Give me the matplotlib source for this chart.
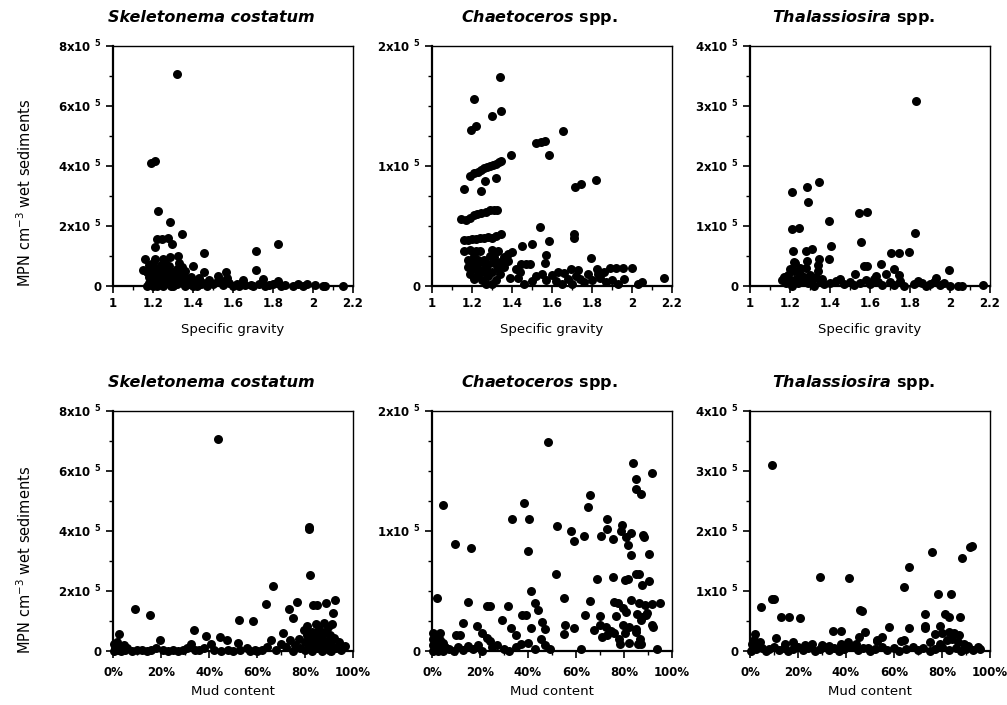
import numpy as np
import matplotlib
matplotlib.use("Agg")
import matplotlib.pyplot as plt
from matplotlib.ticker import MultipleLocator, FuncFormatter

plt.rcParams['font.family'] = ['DejaVu Sans']
plt.rcParams['mathtext.fontset'] = 'dejavusans'

# values: (x, MPN in units of 1e5)
sk_sg = [(1.32, 7.08), (1.19, 4.10), (1.21, 4.15), (1.227, 2.51), (1.285, 2.12), (1.343, 1.73),
         (1.218, 1.56), (1.245, 1.58), (1.277, 1.61), (1.293, 1.39), (1.21, 1.30), (1.457, 1.11),
         (1.715, 1.17), (1.827, 1.39), (1.285, 0.95), (1.327, 1.0), (1.16, 0.89), (1.21, 0.89),
         (1.40, 0.67), (1.343, 0.62), (1.15, 0.53), (1.715, 0.53), (1.457, 0.45), (1.527, 0.33),
         (1.565, 0.45), (1.652, 0.19), (1.752, 0.22), (1.827, 0.17), (1.927, 0.07), (1.968, 0.06),
         (2.01, 0.03), (2.05, 0.0), (2.06, 0.01), (2.15, 0.0),
         (1.17, 0.45), (1.18, 0.3), (1.18, 0.1), (1.19, 0.6), (1.19, 0.2), (1.2, 0.0), (1.2, 0.4),
         (1.21, 0.15), (1.22, 0.55), (1.22, 0.3), (1.23, 0.05), (1.23, 0.45), (1.24, 0.2),
         (1.25, 0.6), (1.25, 0.0), (1.26, 0.35), (1.27, 0.1), (1.27, 0.5), (1.28, 0.25),
         (1.29, 0.0), (1.3, 0.45), (1.3, 0.15), (1.31, 0.3), (1.32, 0.05), (1.33, 0.2),
         (1.34, 0.4), (1.35, 0.1), (1.36, 0.25), (1.38, 0.05), (1.4, 0.15), (1.42, 0.0),
         (1.44, 0.08), (1.47, 0.0), (1.5, 0.05), (1.52, 0.12), (1.55, 0.02), (1.58, 0.1),
         (1.6, 0.0), (1.62, 0.06), (1.66, 0.02), (1.7, 0.0), (1.73, 0.08), (1.78, 0.02),
         (1.8, 0.05), (1.84, 0.0), (1.86, 0.03), (1.9, 0.0), (1.95, 0.0), (1.2, 0.75),
         (1.26, 0.8), (1.24, 0.7), (1.32, 0.55), (1.17, 0.0), (1.28, 0.65), (1.36, 0.5),
         (1.3, 0.0), (1.22, 0.0), (1.36, 0.0), (1.4, 0.0), (1.45, 0.1), (1.48, 0.2),
         (1.54, 0.15), (1.63, 0.0), (1.69, 0.04), (1.76, 0.0), (1.82, 0.1), (1.18, 0.7),
         (1.33, 0.75), (1.25, 0.9), (1.39, 0.3), (1.43, 0.25), (1.57, 0.25)]

ch_sg = [(1.342, 1.74), (1.211, 1.56), (1.345, 1.46), (1.30, 1.42), (1.195, 1.30), (1.22, 1.33),
         (1.655, 1.29), (1.52, 1.19), (1.546, 1.20), (1.563, 1.21), (1.585, 1.09), (1.395, 1.09),
         (1.19, 0.92), (1.21, 0.94), (1.23, 0.95), (1.245, 0.97), (1.26, 0.98), (1.275, 0.99),
         (1.29, 1.0), (1.305, 1.01), (1.32, 1.02), (1.335, 1.03), (1.345, 1.04),
         (1.32, 0.90), (1.266, 0.875), (1.16, 0.81), (1.245, 0.79), (1.713, 0.825), (1.747, 0.85),
         (1.82, 0.88),
         (1.145, 0.56), (1.17, 0.55), (1.19, 0.57), (1.21, 0.59), (1.225, 0.60), (1.245, 0.61),
         (1.27, 0.62), (1.29, 0.63), (1.31, 0.63), (1.325, 0.635), (1.54, 0.49),
         (1.16, 0.38), (1.18, 0.385), (1.2, 0.39), (1.22, 0.395), (1.24, 0.40), (1.26, 0.40),
         (1.28, 0.41), (1.30, 0.40), (1.32, 0.42), (1.345, 0.43),
         (1.71, 0.43), (1.71, 0.40), (1.585, 0.375), (1.45, 0.33), (1.50, 0.35),
         (1.16, 0.29), (1.19, 0.30), (1.22, 0.29), (1.24, 0.29), (1.30, 0.30), (1.33, 0.29),
         (1.40, 0.28), (1.38, 0.27), (1.57, 0.26), (1.795, 0.23), (1.36, 0.24), (1.38, 0.21),
         (1.18, 0.22), (1.20, 0.19), (1.25, 0.20), (1.445, 0.18), (1.47, 0.18), (1.49, 0.18),
         (1.563, 0.195), (1.823, 0.145), (1.89, 0.15), (1.92, 0.15), (1.955, 0.15), (1.998, 0.15),
         (1.697, 0.145), (1.73, 0.13), (1.628, 0.12), (1.66, 0.11),
         (2.16, 0.07), (2.03, 0.02), (2.05, 0.03),
         (1.74, 0.06), (1.76, 0.03), (1.80, 0.05), (1.84, 0.07), (1.87, 0.03), (1.90, 0.05),
         (1.93, 0.02), (1.96, 0.06),
         (1.19, 0.1), (1.20, 0.14), (1.21, 0.06), (1.22, 0.17), (1.23, 0.1), (1.24, 0.13),
         (1.25, 0.05), (1.26, 0.22), (1.27, 0.15), (1.28, 0.08), (1.29, 0.25), (1.30, 0.12),
         (1.31, 0.19), (1.32, 0.05), (1.33, 0.15), (1.34, 0.1), (1.27, 0.02), (1.30, 0.02),
         (1.39, 0.07), (1.43, 0.07), (1.46, 0.02), (1.50, 0.04), (1.52, 0.08), (1.55, 0.1),
         (1.57, 0.05), (1.60, 0.09), (1.62, 0.04), (1.65, 0.02), (1.68, 0.06), (1.70, 0.02),
         (1.72, 0.08), (1.78, 0.1), (1.83, 0.1), (1.86, 0.12), (1.42, 0.14), (1.44, 0.12),
         (1.21, 0.25), (1.23, 0.22), (1.28, 0.18), (1.31, 0.24), (1.34, 0.2), (1.36, 0.16),
         (1.18, 0.16), (1.26, 0.12)]

th_sg = [(1.829, 3.08), (1.345, 1.73), (1.287, 1.65), (1.212, 1.56), (1.29, 1.40), (1.585, 1.24),
         (1.544, 1.21), (1.393, 1.08), (1.212, 0.945), (1.245, 0.96), (1.826, 0.88), (1.556, 0.74),
         (1.403, 0.667), (1.215, 0.585), (1.28, 0.58), (1.31, 0.61), (1.705, 0.545), (1.746, 0.556),
         (1.796, 0.57), (1.343, 0.445), (1.393, 0.445), (1.224, 0.39), (1.287, 0.415), (1.572, 0.33),
         (1.585, 0.33), (1.655, 0.37), (1.718, 0.29), (1.20, 0.29), (1.995, 0.26), (1.526, 0.195),
         (1.68, 0.195), (1.746, 0.18), (1.63, 0.17), (1.93, 0.14), (2.165, 0.01), (2.04, 0.0),
         (2.06, 0.0),
         (1.16, 0.1), (1.17, 0.15), (1.18, 0.05), (1.19, 0.18), (1.2, 0.1), (1.21, 0.0),
         (1.22, 0.25), (1.23, 0.12), (1.24, 0.05), (1.25, 0.2), (1.26, 0.08), (1.27, 0.15),
         (1.28, 0.3), (1.29, 0.05), (1.30, 0.18), (1.31, 0.1), (1.32, 0.0), (1.33, 0.15),
         (1.34, 0.25), (1.35, 0.08), (1.36, 0.12), (1.37, 0.03), (1.22, 0.4), (1.25, 0.3),
         (1.34, 0.35),
         (1.40, 0.05), (1.43, 0.08), (1.45, 0.12), (1.47, 0.03), (1.50, 0.07), (1.52, 0.02),
         (1.55, 0.05), (1.58, 0.1), (1.60, 0.04), (1.62, 0.12), (1.64, 0.06), (1.66, 0.02),
         (1.70, 0.07), (1.72, 0.02), (1.75, 0.08), (1.77, 0.0),
         (1.82, 0.03), (1.84, 0.08), (1.86, 0.05), (1.88, 0.0), (1.90, 0.04), (1.92, 0.07),
         (1.95, 0.02), (1.97, 0.05), (2.0, 0.0)]

sk_mud = [(43.9, 7.08), (81.5, 4.13), (81.8, 4.08), (81.9, 2.55), (66.6, 2.16), (9.1, 1.41),
          (15.6, 1.19), (63.8, 1.58), (76.6, 1.63), (73.5, 1.41), (74.9, 1.11), (83.5, 1.52),
          (85.0, 1.52), (88.8, 1.6), (92.7, 1.69), (91.6, 1.27), (91.4, 0.89), (84.5, 0.91),
          (87.8, 0.92), (52.6, 1.05), (58.5, 1.0), (80.8, 0.84), (2.3, 0.58), (33.7, 0.69),
          (38.8, 0.49), (44.6, 0.47), (47.6, 0.38), (19.5, 0.36), (52.2, 0.27), (70.8, 0.59),
          (65.7, 0.36), (73.8, 0.36), (77.3, 0.41), (79.4, 0.69), (40.8, 0.25), (55.7, 0.1),
          (32.7, 0.22), (96.8, 0.16),
          (80, 0.3), (81, 0.55), (82, 0.2), (83, 0.65), (84, 0.4), (85, 0.1), (86, 0.75),
          (86.5, 0.3), (87, 0.5), (88, 0.15), (88.5, 0.65), (89, 0.35), (90, 0.05), (90.5, 0.55),
          (91, 0.25), (92, 0.45), (93, 0.1), (94, 0.3), (95, 0.05), (83, 0.0), (87, 0.0),
          (91, 0.0), (78, 0.1), (76, 0.2), (72, 0.15), (68, 0.05), (70, 0.25), (75, 0.0),
          (62, 0.05), (60, 0.0), (64, 0.15), (80, 0.05), (82.5, 0.45), (85.5, 0.6), (89.5, 0.8),
          (84.5, 0.22),
          (0.5, 0.25), (1, 0.1), (1.5, 0.3), (2, 0.05), (3, 0.15), (3.5, 0.0), (4.5, 0.2),
          (5, 0.05), (6, 0.1), (0.5, 0.0),
          (8, 0.0), (10, 0.02), (12, 0.04), (14, 0.0), (16, 0.05), (18, 0.1), (21, 0.02),
          (23, 0.0), (25, 0.04), (27, 0.0), (29, 0.05), (31, 0.1), (34, 0.02), (36, 0.05),
          (38, 0.1), (42, 0.04), (45, 0.0), (48, 0.05), (50, 0.0), (53, 0.03), (57, 0.0),
          (59, 0.04)]

ch_mud = [(48.3, 1.745), (83.9, 1.57), (91.8, 1.48), (84.9, 1.43), (84.9, 1.35), (87.0, 1.31),
          (66.0, 1.30), (64.8, 1.2), (38.2, 1.23), (4.5, 1.22), (33.5, 1.10), (40.4, 1.10),
          (52.2, 1.04), (58.0, 1.0), (59.3, 0.92), (63.5, 0.96), (72.9, 1.10), (72.9, 1.02),
          (70.4, 0.96), (75.6, 0.93), (79.0, 1.05), (78.7, 1.0), (80.7, 0.95), (82.8, 0.98),
          (88.0, 0.97), (88.4, 0.95), (81.8, 0.88), (82.8, 0.8), (90.4, 0.81), (9.4, 0.895),
          (16.3, 0.855), (39.8, 0.83), (51.5, 0.64), (75.6, 0.62), (68.7, 0.6), (80.5, 0.59),
          (81.8, 0.60), (84.9, 0.64), (86.3, 0.64), (87.6, 0.55), (90.4, 0.58), (41.1, 0.5),
          (2.0, 0.445), (54.9, 0.44), (66.0, 0.42), (15.2, 0.41), (22.8, 0.375), (24.2, 0.375),
          (31.7, 0.375), (42.8, 0.40), (44.2, 0.34), (75.9, 0.41), (77.7, 0.40), (82.8, 0.425),
          (86.3, 0.40), (88.7, 0.38), (91.8, 0.39), (95.2, 0.40), (79.4, 0.36), (80.7, 0.325),
          (76.6, 0.29), (85.5, 0.31), (89.0, 0.30), (87.0, 0.26), (37.3, 0.30), (39.3, 0.30),
          (63.8, 0.30), (70.1, 0.29), (29.0, 0.26), (12.8, 0.23), (18.9, 0.21), (20.7, 0.15),
          (33.1, 0.19), (34.9, 0.13), (41.4, 0.195), (46.0, 0.24), (46.9, 0.18), (45.5, 0.1),
          (55.6, 0.22), (55.2, 0.14), (59.3, 0.19), (67.6, 0.175), (70.0, 0.22), (72.5, 0.2),
          (74.5, 0.17), (73, 0.13), (76, 0.15), (78, 0.1), (79.5, 0.22), (80.5, 0.15),
          (78.5, 0.06), (82, 0.2), (85, 0.18), (86.5, 0.1), (86, 0.06), (92, 0.2), (10.0, 0.13),
          (11.7, 0.13), (22.8, 0.11), (24.0, 0.08), (40.0, 0.07), (93.8, 0.014), (62.1, 0.02),
          (82, 0.07), (87, 0.06), (87.6, 0.28), (89.7, 0.32), (91.5, 0.22), (84.9, 0.16),
          (71, 0.12),
          (0.5, 0.0), (0.5, 0.05), (0.5, 0.1), (0.5, 0.15), (1.5, 0.02), (1.5, 0.08), (1.5, 0.13),
          (2.5, 0.0), (2.5, 0.06), (2.5, 0.12), (3.5, 0.03), (3.5, 0.09), (3.5, 0.15), (4.5, 0.0),
          (4.5, 0.07), (5.5, 0.03),
          (7, 0.02), (9, 0.0), (11, 0.03), (13, 0.01), (15, 0.04), (17, 0.02), (19, 0.05),
          (21, 0.0), (25, 0.03), (27, 0.05), (30, 0.02), (32, 0.0), (35, 0.03), (37, 0.06),
          (43, 0.02), (47, 0.05), (49, 0.02)]

th_mud = [(9.0, 3.1), (91.8, 1.73), (92.5, 1.75), (88.3, 1.555), (75.9, 1.655), (66.3, 1.40),
          (64.2, 1.07), (29.0, 1.24), (41.4, 1.21), (78.3, 0.955), (83.8, 0.945), (9.0, 0.87),
          (10.0, 0.87), (4.4, 0.74), (46.0, 0.68), (46.5, 0.67), (72.9, 0.61), (81.4, 0.61),
          (82.8, 0.57), (87.4, 0.57), (13.1, 0.57), (16.3, 0.56), (20.7, 0.555), (72.9, 0.42),
          (73.0, 0.39), (66.3, 0.39), (58.0, 0.40), (79.1, 0.42), (34.5, 0.33), (38.0, 0.33),
          (48.0, 0.32), (45.5, 0.23), (55.2, 0.23), (53.0, 0.19), (52.8, 0.16), (64.2, 0.18),
          (62.8, 0.17), (11.0, 0.22), (2.0, 0.28),
          (77, 0.28), (80, 0.3), (83, 0.32), (85, 0.3), (87, 0.27), (75, 0.15), (79, 0.12),
          (82, 0.18), (84, 0.2), (86.5, 0.15), (89, 0.12), (91, 0.08), (95.2, 0.07), (1, 0.12),
          (1.5, 0.18), (3, 0.08), (4, 0.15), (14.5, 0.12), (18, 0.15), (23, 0.1), (26, 0.12),
          (30, 0.1), (33, 0.08), (38, 0.12), (41, 0.15), (44, 0.12), (49, 0.05),
          (0.5, 0.0), (2.5, 0.03), (5, 0.05), (6.5, 0.0), (8, 0.04), (10, 0.06), (12, 0.02),
          (14, 0.05), (16, 0.0), (18, 0.04), (20, 0.06), (22, 0.02), (24, 0.05), (27, 0.0),
          (29, 0.04), (31, 0.06), (33, 0.02), (35, 0.05), (37, 0.0), (39, 0.04), (42, 0.06),
          (45, 0.02), (47, 0.05), (50, 0.0), (52, 0.04), (55, 0.06), (57, 0.02), (60, 0.05),
          (62, 0.0), (65, 0.04), (68, 0.06), (70, 0.02), (72, 0.05), (75, 0.0), (77, 0.04),
          (80, 0.06), (83, 0.02), (86, 0.05), (88, 0.0), (90, 0.04), (93, 0.02), (96, 0.04)]

titles = ["Skeletonema costatum", r"$\mathbfit{Chaetoceros}$ spp.", r"$\mathbfit{Thalassiosira}$ spp."]
title_x = [0.41, 0.446, 0.43]
ymax = [8e5, 2e5, 4e5]
ymajor = [2e5, 1e5, 1e5]
yminor = [1e5, 0.25e5, 0.5e5]
ylabel = r"MPN cm$^{-3}$ wet sediments"

W, H = 1007, 705
fig = plt.figure(figsize=(W / 100, H / 100), dpi=100)

lefts = [113, 432, 750]
row_bottom = [286, 651]
panels = [[sk_sg, ch_sg, th_sg], [sk_mud, ch_mud, th_mud]]


def ylab(v, pos):
    if v == 0:
        return "0"
    return "%gx10 $^{\\mathbf{5}}$" % (v / 1e5)


for r in range(2):
    for c in range(3):
        ax = fig.add_axes([lefts[c] / W, 1 - row_bottom[r] / H, 240 / W, 240 / H])
        pts = np.array(panels[r][c])
        ax.scatter(pts[:, 0], pts[:, 1] * 1e5, s=42, c='black', linewidths=0,
                   clip_on=False, zorder=3)
        ax.set_ylim(0, ymax[c])
        ax.yaxis.set_major_locator(MultipleLocator(ymajor[c]))
        ax.yaxis.set_minor_locator(MultipleLocator(yminor[c]))
        ax.yaxis.set_major_formatter(FuncFormatter(ylab))
        if r == 0:
            ax.set_xlim(1, 2.2)
            ax.set_xticks([1, 1.2, 1.4, 1.6, 1.8, 2, 2.2])
            ax.set_xticklabels(["1", "1.2", "1.4", "1.6", "1.8", "2", "2.2"])
            ax.xaxis.set_minor_locator(MultipleLocator(0.1))
            ax.set_xlabel("Specific gravity", fontsize=9.5, labelpad=9)
            xpad = 3
        else:
            ax.set_xlim(0, 100)
            ax.set_xticks([0, 20, 40, 60, 80, 100])
            ax.set_xticklabels(["0%", "20%", "40%", "60%", "80%", "100%"])
            ax.xaxis.set_minor_locator(MultipleLocator(10))
            ax.set_xlabel("Mud content", fontsize=9.5, labelpad=4)
            xpad = 6
        if c == 0:
            ax.text(title_x[c], 1.117, titles[c], transform=ax.transAxes, ha='center',
                    va='center', fontsize=11.5, fontweight='bold', fontstyle='italic')
        else:
            ax.text(title_x[c], 1.117, titles[c], transform=ax.transAxes, ha='center',
                    va='center', fontsize=11.5, fontweight='bold')
        for s in ['left', 'bottom']:
            ax.spines[s].set_linewidth(1.6)
        for s in ['top', 'right']:
            ax.spines[s].set_linewidth(1.0)
        ax.tick_params(which='major', direction='out', length=5, width=1.2, labelsize=8.5)
        ax.tick_params(which='minor', direction='out', length=3, width=1.0)
        ax.tick_params(axis='x', which='major', pad=xpad)
        ax.tick_params(axis='y', which='major', pad=3)
        for lab in ax.get_xticklabels() + ax.get_yticklabels():
            lab.set_fontweight('bold')

fig.text(25 / W, 1 - 193 / H, ylabel, rotation=90, ha='center', va='center', fontsize=10.5)
fig.text(25 / W, 1 - 560 / H, ylabel, rotation=90, ha='center', va='center', fontsize=10.5)

fig.savefig("out.png", dpi=100)
